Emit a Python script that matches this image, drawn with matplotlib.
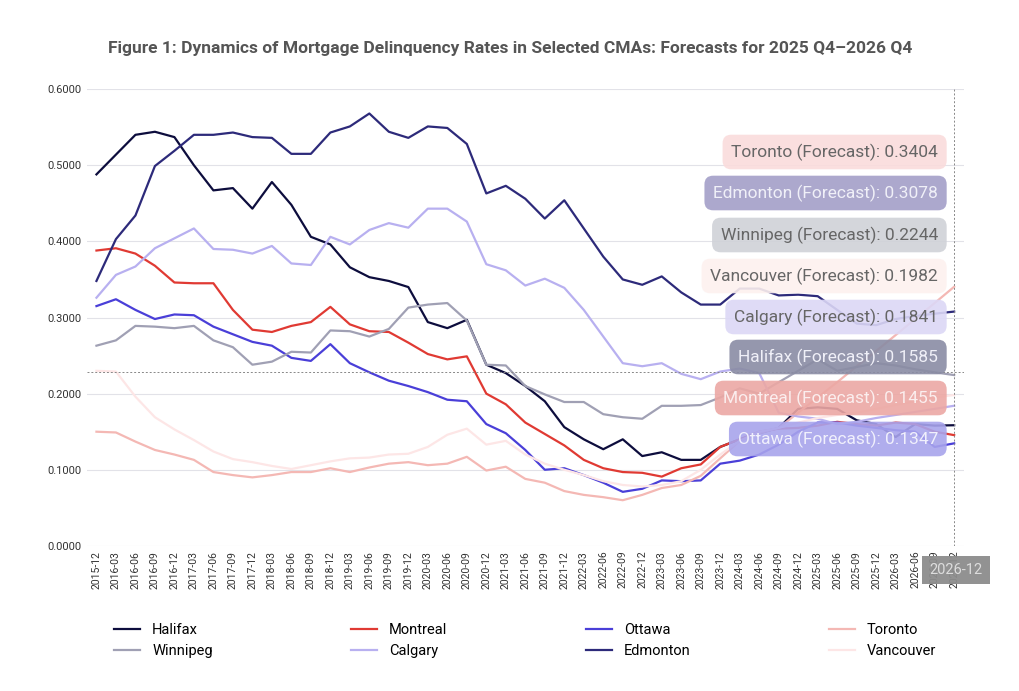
import numpy as np
import pandas as pd
import matplotlib
matplotlib.use('Agg')
import matplotlib.pyplot as plt

dates = pd.period_range('2015Q4', '2026Q4', freq='Q').to_timestamp(how='end').strftime('%Y-%m').tolist()

halifax = [0.488, 0.514, 0.540, 0.544, 0.537, 0.500, 0.467, 0.470, 0.443, 0.478, 0.448, 0.406, 0.396, 0.366, 0.353, 0.348, 0.340, 0.294, 0.286, 0.297,
           0.238, 0.227, 0.210, 0.190, 0.156, 0.140, 0.127, 0.140, 0.118, 0.123, 0.113, 0.113, 0.130, 0.140, 0.148, 0.155, 0.180, 0.182, 0.180, 0.165, 0.160, 0.143, 0.160, 0.158, 0.1585]
montreal = [0.388, 0.391, 0.384, 0.368, 0.346, 0.345, 0.345, 0.310, 0.284, 0.281, 0.289, 0.294, 0.314, 0.291, 0.282, 0.281, 0.267, 0.252, 0.245, 0.249,
            0.200, 0.186, 0.162, 0.147, 0.132, 0.113, 0.102, 0.097, 0.096, 0.091, 0.102, 0.107, 0.130, 0.140, 0.150, 0.154, 0.155, 0.158, 0.163, 0.160, 0.158, 0.162, 0.160, 0.150, 0.1455]
ottawa = [0.315, 0.324, 0.310, 0.298, 0.304, 0.303, 0.288, 0.278, 0.268, 0.263, 0.247, 0.243, 0.265, 0.240, 0.228, 0.217, 0.210, 0.202, 0.192, 0.190,
          0.160, 0.148, 0.126, 0.100, 0.102, 0.093, 0.083, 0.071, 0.075, 0.086, 0.085, 0.086, 0.108, 0.112, 0.120, 0.133, 0.150, 0.162, 0.162, 0.158, 0.155, 0.152, 0.150, 0.130, 0.1347]
toronto = [0.150, 0.149, 0.137, 0.126, 0.120, 0.113, 0.097, 0.093, 0.090, 0.093, 0.097, 0.097, 0.102, 0.097, 0.103, 0.108, 0.110, 0.106, 0.108, 0.117,
           0.099, 0.104, 0.088, 0.083, 0.072, 0.067, 0.064, 0.060, 0.067, 0.076, 0.080, 0.092, 0.115, 0.138, 0.148, 0.155, 0.175, 0.195, 0.215, 0.236, 0.256, 0.277, 0.298, 0.319, 0.3404]
winnipeg = [0.263, 0.270, 0.289, 0.288, 0.286, 0.289, 0.270, 0.261, 0.238, 0.242, 0.255, 0.254, 0.283, 0.282, 0.275, 0.285, 0.313, 0.317, 0.319, 0.296,
            0.238, 0.237, 0.210, 0.199, 0.189, 0.189, 0.173, 0.169, 0.167, 0.184, 0.184, 0.185, 0.195, 0.207, 0.200, 0.215, 0.230, 0.245, 0.230, 0.235, 0.240, 0.237, 0.232, 0.228, 0.2244]
calgary = [0.326, 0.356, 0.367, 0.391, 0.404, 0.417, 0.390, 0.389, 0.384, 0.394, 0.371, 0.369, 0.406, 0.396, 0.415, 0.424, 0.418, 0.443, 0.443, 0.426,
           0.370, 0.362, 0.342, 0.351, 0.339, 0.310, 0.275, 0.240, 0.236, 0.240, 0.226, 0.219, 0.229, 0.233, 0.227, 0.175, 0.170, 0.167, 0.160, 0.163, 0.168, 0.172, 0.176, 0.180, 0.1841]
edmonton = [0.348, 0.403, 0.434, 0.499, 0.519, 0.540, 0.540, 0.543, 0.537, 0.536, 0.515, 0.515, 0.543, 0.551, 0.568, 0.544, 0.536, 0.551, 0.549, 0.528,
            0.463, 0.473, 0.456, 0.430, 0.454, 0.417, 0.380, 0.350, 0.343, 0.354, 0.333, 0.317, 0.317, 0.338, 0.338, 0.329, 0.330, 0.328, 0.310, 0.292, 0.290, 0.298, 0.302, 0.305, 0.3078]
vancouver = [0.230, 0.229, 0.196, 0.169, 0.153, 0.139, 0.124, 0.114, 0.110, 0.105, 0.101, 0.106, 0.111, 0.115, 0.116, 0.120, 0.121, 0.130, 0.146, 0.154,
             0.133, 0.138, 0.120, 0.108, 0.100, 0.093, 0.085, 0.080, 0.078, 0.080, 0.085, 0.100, 0.120, 0.138, 0.150, 0.155, 0.162, 0.168, 0.172, 0.175, 0.180, 0.185, 0.190, 0.195, 0.1982]

names = ['Halifax', 'Montreal', 'Ottawa', 'Toronto', 'Winnipeg', 'Calgary', 'Edmonton', 'Vancouver']
series = [halifax, montreal, ottawa, toronto, winnipeg, calgary, edmonton, vancouver]
colors = ['#0d0d3d', '#e03a33', '#4a3fd8', '#f4b8b4', '#a0a0b4', '#b8b0f0', '#2d2a7a', '#fde6e6']

# tooltip order and box styles (face, text colour)
tip_order = ['Toronto', 'Edmonton', 'Winnipeg', 'Vancouver', 'Calgary', 'Halifax', 'Montreal', 'Ottawa']
tip_style = {'Toronto': ('#fadcdc', '#666666'), 'Edmonton': ('#a39fc8', '#f0f0f8'),
             'Winnipeg': ('#d0d2d8', '#666666'), 'Vancouver': ('#fdf1ef', '#666666'),
             'Calgary': ('#dcd8f6', '#666666'), 'Halifax': ('#8a8ca4', '#f0f0f8'),
             'Montreal': ('#eca8a4', '#fbeeee'), 'Ottawa': ('#a8a4ec', '#f0f0fc')}

plt.rcParams['font.family'] = ['Roboto', 'DejaVu Sans']

fig = plt.figure(figsize=(10.2, 6.91), dpi=100)
ax = fig.add_axes([0.085, 0.21, 0.86, 0.661])
x = np.arange(len(dates))

lines = []
for name, vals, c in zip(names, series, colors):
    ln, = ax.plot(x, vals, color=c, lw=1.6, label=name)
    lines.append(ln)

ax.set_xlim(-0.5, len(dates) - 0.5)
ax.set_ylim(0, 0.6)
ax.set_yticks(np.arange(0, 0.61, 0.1))
ax.set_yticklabels(['%.4f' % v for v in np.arange(0, 0.61, 0.1)], fontsize=8, color='#333333')
ax.set_xticks(x)
ax.set_xticklabels(dates, rotation=90, fontsize=7.5, color='#333333')
ax.tick_params(length=0)
ax.grid(axis='y', color='#e2e2e8', lw=0.8)
for s in ax.spines.values():
    s.set_visible(False)

# crosshair of the tooltip
ax.axhline(0.228, color='#888888', ls=(0, (2, 2)), lw=0.7)
ax.axvline(x[-1], color='#888888', ls=(0, (2, 2)), lw=0.7)

vals_by_name = dict(zip(names, series))
tip_y = [152, 193, 235, 276, 317, 357, 398, 439]
for name, py in zip(tip_order, tip_y):
    face, tc = tip_style[name]
    fig.text(938 / 1020, 1 - py / 691, '%s (Forecast): %.4f' % (name, vals_by_name[name][-1]),
             ha='right', va='center', fontsize=12.5, color=tc,
             bbox=dict(boxstyle='round,pad=0.5', fc=face, ec='none', alpha=0.9))
fig.text(956 / 1020, 1 - 570 / 691, dates[-1], ha='center', va='center', fontsize=10.5, color='#dddddd',
         bbox=dict(boxstyle='square,pad=0.5', fc='#8c8c8c', ec='none', alpha=0.95))

# legend fills row by row: reorder for matplotlib's column-major layout
order = [0, 4, 1, 5, 2, 6, 3, 7]
fig.legend([lines[i] for i in order], [names[i] for i in order], loc='center',
           bbox_to_anchor=(0.515, 0.073), ncol=4, frameon=False, fontsize=10.5,
           handlelength=1.8, columnspacing=9.5)
fig.suptitle('Figure 1: Dynamics of Mortgage Delinquency Rates in Selected CMAs: Forecasts for 2025 Q4\u20132026 Q4',
             y=0.94, fontsize=12.5, fontweight='bold', color='#555555')

fig.savefig('out.png', dpi=100)
